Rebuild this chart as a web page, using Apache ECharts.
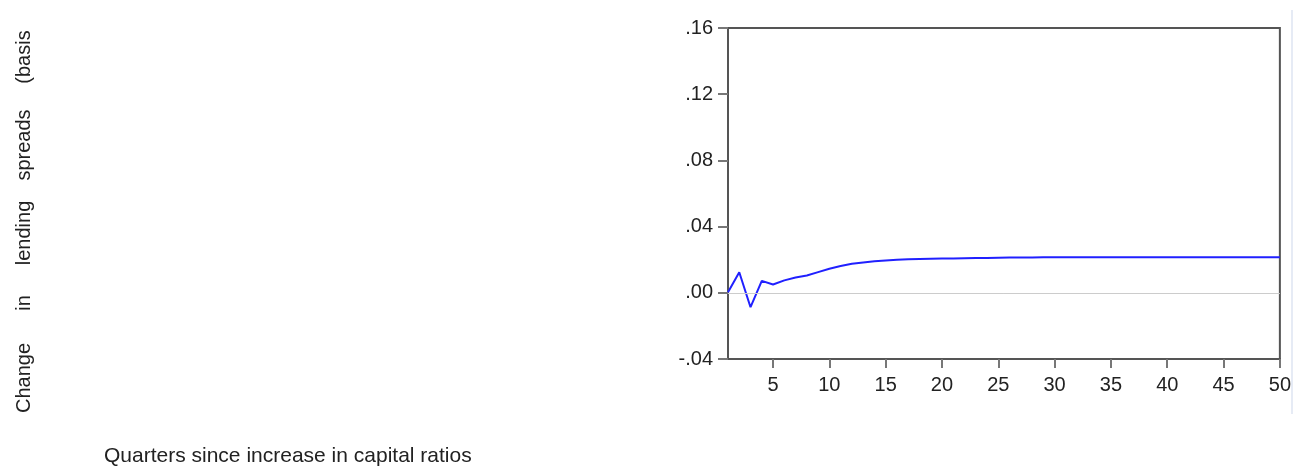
<!DOCTYPE html>
<html>
<head>
<meta charset="utf-8">
<script src="https://cdn.jsdelivr.net/npm/echarts@6/dist/echarts.min.js"></script>
<style>
html,body{margin:0;padding:0;background:#fff;}
#chart{width:1294px;height:468px;}
</style>
</head>
<body>
<div id="chart"></div>
<script>
const quarters = [];
for (let i = 1; i <= 50; i++) quarters.push(String(i));

const spreadChange = [
  0.0004, 0.0124, -0.0087, 0.0072, 0.0050, 0.0075, 0.0092, 0.0105, 0.0125, 0.0145,
  0.0162, 0.0175, 0.0183, 0.0190, 0.0195, 0.0199, 0.0202, 0.0204, 0.0206, 0.0207,
  0.0208, 0.0209, 0.0210, 0.0211, 0.0212, 0.0213, 0.0214, 0.0214, 0.0215, 0.0215,
  0.0215, 0.0215, 0.0215, 0.0215, 0.0215, 0.0215, 0.0215, 0.0215, 0.0215, 0.0215,
  0.0215, 0.0215, 0.0215, 0.0215, 0.0215, 0.0215, 0.0215, 0.0215, 0.0215, 0.0215
];

const yTitleWords = ["Change", "in", "lending", "spreads", "(basis"];
const yTitleCenters = [378, 303, 233, 145, 57];
const xTitle = "Quarters since increase in capital ratios";

const FONT = "'Liberation Sans', Arial, Helvetica, sans-serif";

const chart = echarts.init(document.getElementById('chart'), null, {renderer: 'canvas'});

const graphics = yTitleWords.map((w, i) => ({
  type: 'text',
  x: 24,
  y: yTitleCenters[i],
  rotation: Math.PI / 2,
  style: {
    text: w,
    fill: '#222',
    font: '20px ' + FONT,
    align: 'center',
    verticalAlign: 'middle'
  }
}));
graphics.push({
  type: 'text',
  left: 104,
  top: 446,
  style: {
    text: xTitle,
    fill: '#222',
    font: '21px ' + FONT
  }
});
graphics.push({
  type: 'rect',
  shape: {x: 1291, y: 10, width: 2, height: 404},
  style: {fill: '#e6ebf5'},
  silent: true
});

const showEvery5 = (idx) => (idx + 1) % 5 === 0;

chart.setOption({
  animation: false,
  backgroundColor: '#fff',
  textStyle: {fontFamily: FONT},
  grid: {
    left: 728, right: 13, top: 28, bottom: 109,
    show: true, borderColor: '#555', borderWidth: 2, backgroundColor: 'transparent'
  },
  xAxis: {
    type: 'category',
    data: quarters,
    boundaryGap: false,
    axisLine: {show: true, onZero: false, lineStyle: {color: '#555', width: 2}},
    axisTick: {show: true, inside: false, length: 9, interval: showEvery5, lineStyle: {color: '#777', width: 2}},
    axisLabel: {interval: showEvery5, margin: 16, color: '#222', fontSize: 20, fontFamily: FONT},
    splitLine: {show: false}
  },
  yAxis: {
    type: 'value',
    min: -0.04, max: 0.16, interval: 0.04,
    axisLine: {show: true, onZero: false, lineStyle: {color: '#555', width: 2}},
    axisTick: {show: true, length: 10, lineStyle: {color: '#777', width: 2}},
    axisLabel: {
      margin: 15, color: '#222', fontSize: 20, fontFamily: FONT,
      formatter: (v) => {
        let s = Number(v).toFixed(2);
        if (s === '-0.00') s = '0.00';
        return s.replace(/^(-?)0\./, '$1.');
      }
    },
    splitLine: {show: false}
  },
  series: [{
    type: 'line',
    data: spreadChange,
    symbol: 'none',
    lineStyle: {color: '#2020ff', width: 2},
    markLine: {
      silent: true,
      symbol: 'none',
      label: {show: false},
      lineStyle: {color: '#cccccc', width: 1, type: 'solid'},
      data: [{yAxis: 0}]
    },
    z: 3
  }],
  graphic: graphics
});
</script>
</body>
</html>
